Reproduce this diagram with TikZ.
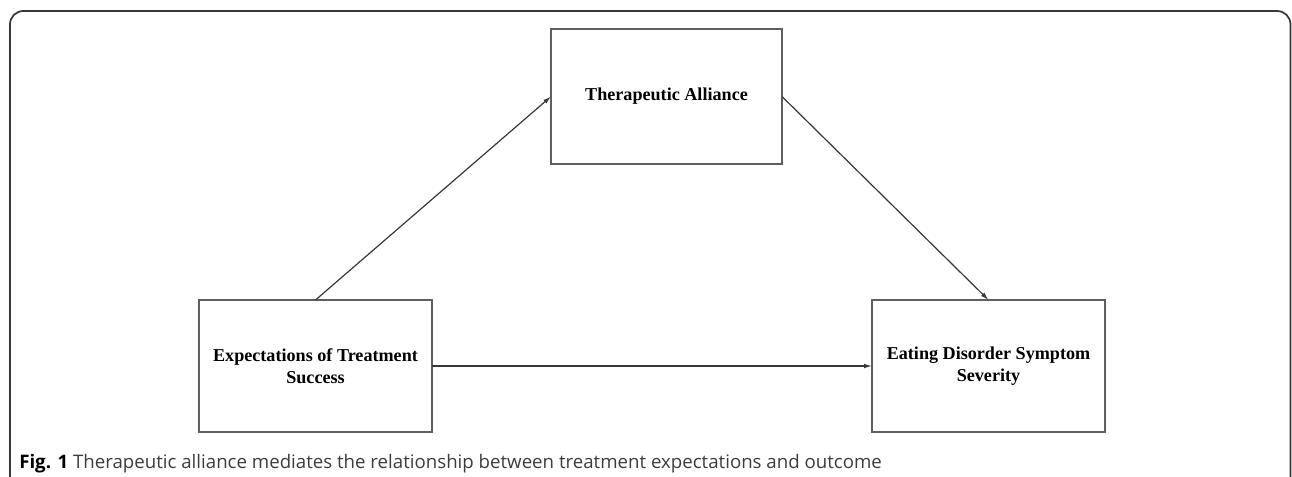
\documentclass[tikz,border=0pt]{standalone}
\usepackage{fontspec}
\setmainfont{Liberation Serif}
\newfontfamily\capfont{Open Sans}
\usetikzlibrary{arrows.meta}

\definecolor{boxgray}{RGB}{95,95,95}
\definecolor{framegray}{RGB}{55,55,55}
\definecolor{captext}{RGB}{60,60,60}

\begin{document}
\begin{tikzpicture}[x=0.75pt,y=-0.75pt,
    varbox/.style={draw=boxgray,line width=1pt,align=center,
      font=\fontsize{13.6}{16.5}\selectfont\bfseries,
      minimum width=174.75pt,minimum height=99pt,outer sep=0pt},
    conn/.style={draw=framegray,line width=0.9pt,
      -{Latex[length=6pt,width=3.5pt]}}]
  \useasboundingbox
    (0,0)
    rectangle
    (1292,476);
  % outer frame, open at the bottom
  \draw[framegray,line width=1.3pt,rounded corners=10pt]
    (10,480)
    --
    (10,11)
    --
    (1290.5,11)
    --
    (1290.5,480);
  % the three variables
  \node[varbox,minimum width=173.25pt,minimum height=101.25pt]
    (alliance) at (666.5,96.5) {Therapeutic Alliance};
  \node[varbox]
    (expect) at (315.5,366) {Expectations of Treatment\\Success};
  \node[varbox]
    (severity) at (988.5,366) {Eating Disorder Symptom\\Severity};
  % paths
  \draw[conn]
    (expect.north)
    --
    (alliance.west);
  \draw[conn]
    (alliance.east)
    --
    (severity.north);
  \draw[conn]
    (expect.east)
    --
    (severity.west);
  % caption
  \node[anchor=base west,inner sep=0pt,text=captext,
        font=\capfont\fontsize{14}{16}\selectfont]
    (caption) at (19,468)
    {\textcolor{black}{\bfseries Fig. 1} Therapeutic alliance mediates the relationship between treatment expectations and outcome};
\end{tikzpicture}
\end{document}
